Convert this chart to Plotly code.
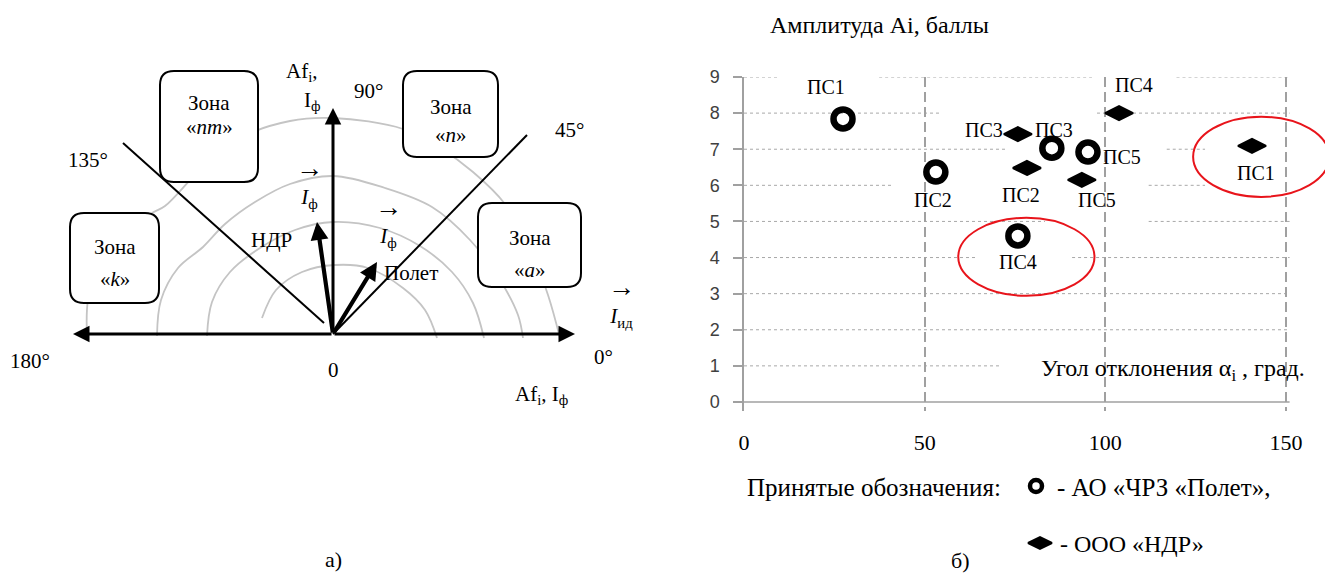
import plotly.graph_objects as go

W, H = 1325, 574
SERIF = "Liberation Serif, Times New Roman, serif"
SANS = "Liberation Sans, Arial, sans-serif"

# ---------------- scatter data: deviation angle (deg) vs amplitude (points)
stations = ["ПС1", "ПС2", "ПС3", "ПС4", "ПС5"]
polet_angle = [27.4, 53.1, 85.2, 75.8, 95.2]
polet_ampl = [7.84, 6.37, 7.03, 4.60, 6.92]
ndr_angle = [140.6, 78.3, 75.8, 103.8, 93.5]
ndr_ampl = [7.09, 6.48, 7.42, 8.00, 6.15]

x_ticks = [0, 50, 100, 150]
y_ticks = [0, 1, 2, 3, 4, 5, 6, 7, 8, 9]

# label placement next to each marker (pixel shifts)
polet_label_shift = [(-17, 32), (-3, -28), (2, 18), (0, -26), (34, -5)]
ndr_label_shift = [(4, -27), (-6, -27), (-34, 4), (15, 28), (15, -20)]

# highlighted groups: (x0, x1, y0, y1) in chart units
highlight_ellipses = [(59.3, 97.0, 2.94, 5.10), (124.3, 162.0, 5.68, 7.90)]

# horizontal dotted grid, interrupted where text boxes sit
grid_segments = {
    9: [(0, 9.4), (37.4, 96.3), (119.7, 151)],
    8: [(0, 54.8), (97.7, 151)],
    7: [(0, 72.3), (117, 127.6)],
    6: [(0, 41), (112, 127.6)],
    5: [(0, 83.3), (112, 151)],
    4: [(0, 64.2), (90.8, 151)],
    3: [(0, 151)],
    2: [(0, 151)],
    1: [(0, 71.4)],
}

# ---------------- vector diagram geometry (page pixels)
origin = (333, 334)
axis_tips = [(73, 334), (575, 334), (333, 108)]
vec_ndr = (317, 222)
vec_polet = (377, 262)
sector_lines = [((123, 143), (324, 323)), ((333, 334), (527, 135))]
zone_boxes = {
    "nm": (160, 71, 258, 182),
    "n": (403, 71, 498, 157),
    "k": (70, 213, 159, 303),
    "a": (478, 203, 581, 287),
}
iso_arcs = [
    [(87, 336), (88, 300), (100, 262), (125, 232), (152, 213), (165, 206), (200, 170), (240, 138),
     (290, 121), (333, 118), (403, 129), (440, 148), (473, 172), (505, 204), (530, 248),
     (548, 295), (560, 338)],
    [(157, 336), (161, 300), (178, 268), (203, 247), (225, 224), (255, 202), (290, 184),
     (333, 176), (385, 188), (432, 207), (470, 240), (500, 280), (518, 315), (523, 338)],
    [(207, 336), (212, 302), (230, 272), (260, 248), (295, 230), (333, 222), (380, 228),
     (420, 246), (452, 272), (473, 303), (484, 338)],
    [(262, 318), (276, 290), (302, 272), (335, 265), (368, 268), (403, 288), (425, 310), (437, 338)],
]

fig = go.Figure()

# arcs of the diagram
for arc in iso_arcs:
    fig.add_trace(go.Scatter(
        x=[p[0] for p in arc], y=[p[1] for p in arc], mode="lines",
        line=dict(color="#C4C4C4", width=1.8, shape="spline", smoothing=1.0),
        xaxis="x", yaxis="y", hoverinfo="skip", showlegend=False))

# chart markers
fig.add_trace(go.Scatter(
    x=polet_angle, y=polet_ampl, mode="markers", name="АО «ЧРЗ «Полет»",
    marker=dict(symbol="circle-open", size=19, color="black", line=dict(width=6.5, color="black")),
    xaxis="x2", yaxis="y2", showlegend=False))
fig.add_trace(go.Scatter(
    x=ndr_angle, y=ndr_ampl, mode="markers", name="ООО «НДР»",
    marker=dict(symbol="diamond-wide", size=20, color="black", line=dict(width=2, color="black")),
    xaxis="x2", yaxis="y2", showlegend=False))

# legend symbols
fig.add_trace(go.Scatter(
    x=[1036], y=[486], mode="markers",
    marker=dict(symbol="circle-open", size=12, color="black", line=dict(width=4.5, color="black")),
    xaxis="x", yaxis="y", hoverinfo="skip", showlegend=False))
fig.add_trace(go.Scatter(
    x=[1040], y=[543], mode="markers",
    marker=dict(symbol="diamond-wide", size=17, color="black", line=dict(width=2, color="black")),
    xaxis="x", yaxis="y", hoverinfo="skip", showlegend=False))

shapes = []
# dotted horizontal grid
for yv, segs in grid_segments.items():
    for a, b in segs:
        shapes.append(dict(type="line", xref="x2", yref="y2", x0=a, x1=b, y0=yv, y1=yv,
                           line=dict(color="#A8A8A8", width=1, dash="dot"), layer="below"))
# horizontal axis of the chart
shapes.append(dict(type="line", xref="x2", yref="y2", x0=0, x1=151, y0=0, y1=0,
                   line=dict(color="#A0A0A0", width=1.5), layer="below"))
# highlight ellipses
for x0, x1, y0, y1 in highlight_ellipses:
    shapes.append(dict(type="circle", xref="x2", yref="y2", x0=x0, x1=x1, y0=y0, y1=y1,
                       line=dict(color="#E8141B", width=2)))

# diagram sector lines
for (p0, p1) in sector_lines:
    shapes.append(dict(type="line", xref="x", yref="y", x0=p0[0], y0=p0[1], x1=p1[0], y1=p1[1],
                       line=dict(color="black", width=2)))


def rounded_rect(x0, y0, x1, y1, r=14):
    return (f"M{x0 + r},{y0} L{x1 - r},{y0} Q{x1},{y0} {x1},{y0 + r} "
            f"L{x1},{y1 - r} Q{x1},{y1} {x1 - r},{y1} L{x0 + r},{y1} "
            f"Q{x0},{y1} {x0},{y1 - r} L{x0},{y0 + r} Q{x0},{y0} {x0 + r},{y0} Z")


for (x0, y0, x1, y1) in zone_boxes.values():
    shapes.append(dict(type="path", xref="x", yref="y", path=rounded_rect(x0, y0, x1, y1),
                       fillcolor="white", line=dict(color="black", width=2)))

annotations = []


def txt(x, y, text, size=21, xanchor="center", ref=("x", "y"), **kw):
    annotations.append(dict(x=x, y=y, xref=ref[0], yref=ref[1], text=text, showarrow=False,
                            xanchor=xanchor, yanchor="middle",
                            font=dict(family=SERIF, size=size, color="black"), **kw))


def arrow(tip, tail, width, size, head=2):
    annotations.append(dict(x=tip[0], y=tip[1], ax=tail[0], ay=tail[1], xref="x", yref="y",
                            axref="x", ayref="y", text="", showarrow=True, arrowhead=head,
                            arrowsize=size, arrowwidth=width, arrowcolor="black"))


for tip in axis_tips:
    arrow(tip, origin, 3, 1.1)
arrow(vec_ndr, origin, 4.2, 0.85)
arrow(vec_polet, origin, 4.2, 0.85)

# zone captions
zone_text = {"nm": "«<i>nm</i>»", "n": "«<i>n</i>»", "k": "«<i>k</i>»", "a": "«<i>a</i>»"}
zone_text_y = {"nm": (103, 127), "n": (107, 135), "k": (247, 279), "a": (238, 270)}
for key, (x0, y0, x1, y1) in zone_boxes.items():
    cx = (x0 + x1) / 2
    txt(cx, zone_text_y[key][0], "Зона")
    txt(cx, zone_text_y[key][1], zone_text[key])

VEC = "<span style='font-size:27px'>→</span><br>"

txt(302, 72, "Af<sub>i</sub>,")
txt(312, 101, "I<sub>ф</sub>")
txt(368, 91, "90°")
txt(569, 130, "45°")
txt(88, 160, "135°")
txt(30, 361, "180°")
txt(603, 357, "0°")
txt(333, 370, "0")
txt(541, 395, "Af<sub>i</sub>, I<sub>ф</sub>")
txt(271, 240, "НДР")
txt(411, 273, "Полет")
txt(309, 182, VEC + "<i>I</i><sub>ф</sub>", size=21)
txt(388, 221, VEC + "<i>I</i><sub>ф</sub>", size=21)
txt(621, 301, VEC + "<i>I</i><sub>ид</sub>", size=21)
txt(333, 559, "а)", size=22)

# chart texts
txt(879, 25, "Амплитуда Ai, баллы", size=24)
txt(1039, 370, "Угол отклонения α<sub>i</sub> , град.", xanchor="left", size=24)
txt(745, 487, "Принятые обозначения:", xanchor="left", size=25)
txt(1055, 487, "- АО «ЧРЗ «Полет»,", xanchor="left", size=25)
txt(1058, 544, "- ООО «НДР»", xanchor="left", size=24)
txt(960, 560, "б)", size=22)

for name, xv, yv, (dx, dy) in zip(stations, polet_angle, polet_ampl, polet_label_shift):
    txt(xv, yv, name, size=20, ref=("x2", "y2"), xshift=dx, yshift=dy)
for name, xv, yv, (dx, dy) in zip(stations, ndr_angle, ndr_ampl, ndr_label_shift):
    txt(xv, yv, name, size=20, ref=("x2", "y2"), xshift=dx, yshift=dy)

fig.update_layout(
    width=W, height=H, margin=dict(l=0, r=0, t=0, b=0, autoexpand=False),
    paper_bgcolor="white", plot_bgcolor="rgba(0,0,0,0)",
    shapes=shapes, annotations=annotations, showlegend=False,
    xaxis=dict(domain=[0, 1], range=[0, W], visible=False, fixedrange=True, automargin=False),
    yaxis=dict(domain=[0, 1], range=[H, 0], visible=False, fixedrange=True, automargin=False),
    xaxis2=dict(domain=[744 / W, 1], range=[0, 160.8], anchor="y2", automargin=False,
                tickvals=x_ticks, ticks="", showline=False, zeroline=False,
                showgrid=True, gridcolor="#A0A0A0", gridwidth=1.5, griddash="10px,5px",
                tickfont=dict(family=SERIF, size=22, color="black"), ticklabelstandoff=16),
    yaxis2=dict(domain=[1 - 411 / H, 1 - 77 / H], range=[-0.25, 9], anchor="x2", automargin=False,
                tickvals=y_ticks, ticks="outside", ticklen=9, tickwidth=1.5, tickcolor="#A0A0A0",
                showline=True, linecolor="#A0A0A0", linewidth=1.5, showgrid=False, zeroline=False,
                tickfont=dict(family=SANS, size=18, color="#404040"), ticklabelstandoff=10),
)

fig.write_html("out.html")
